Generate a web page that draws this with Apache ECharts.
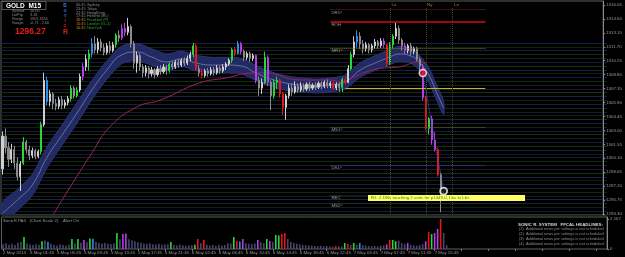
<!DOCTYPE html>
<html>
<head>
<meta charset="utf-8">
<title>GOLD M15</title>
<script src="https://cdn.jsdelivr.net/npm/echarts@6/dist/echarts.min.js"></script>
<style>
  html, body { margin: 0; padding: 0; background: #000; }
  #chart { width: 625px; height: 257px; }
</style>
</head>
<body>
<div id="chart"></div>
<script>
// ---- data ----
const slotCount = 202 // bar slots incl. the empty chart shift on the right

const timeLabels = ['2 May 2014', '5 May 01:45', '5 May 05:45', '5 May 09:45', '5 May 13:45',
  '5 May 17:45', '5 May 21:45', '6 May 02:45', '6 May 06:45', '6 May 10:45', '6 May 14:45',
  '6 May 18:45', '6 May 22:45', '7 May 03:45', '7 May 07:45', '7 May 11:45', '7 May 15:45']

const priceTicks = [1316.05, 1314.60, 1313.15, 1311.70, 1310.25, 1308.80, 1307.35, 1305.90,
  1304.45, 1303.00, 1301.55, 1300.10, 1298.65, 1297.20, 1295.75, 1294.30]
const volumeTicks = [0, 2167]
const lastPrice = 1296.27

// [open, close, low, high]
const candles = [
  [1299.0,1302.4,1298.4,1302.9],[1302.4,1301.2,1300.6,1303.2],[1301.2,1300.0,1299.2,1301.8],[1300.0,1301.0,1299.6,1301.6],[1301.0,1299.6,1299.0,1301.4],
  [1299.6,1298.2,1297.8,1300.2],[1298.2,1299.5,1296.7,1299.8],[1299.6,1301.8,1299.4,1302.3],[1301.8,1301.0,1300.6,1302.0],[1301.0,1300.4,1299.9,1301.4],
  [1300.4,1300.9,1300.1,1301.2],[1300.9,1300.3,1300.0,1301.1],[1300.3,1300.8,1300.1,1301.0],[1300.8,1303.6,1300.5,1303.9],[1303.6,1308.2,1303.4,1309.0],
  [1308.2,1306.0,1305.6,1308.6],[1306.0,1306.8,1305.5,1307.2],[1306.8,1305.8,1305.2,1307.0],[1305.8,1305.5,1305.1,1306.3],[1305.5,1306.2,1305.2,1306.5],
  [1306.2,1305.6,1305.2,1306.6],[1305.6,1305.9,1305.3,1306.2],[1305.9,1306.3,1305.6,1306.6],[1306.3,1307.4,1306.0,1307.7],[1307.4,1306.6,1306.3,1307.6],
  [1306.6,1307.2,1306.4,1307.5],[1307.2,1308.6,1307.0,1308.9],[1308.6,1309.6,1308.2,1310.0],[1309.6,1310.4,1309.2,1310.9],[1310.4,1311.0,1309.2,1311.4],
  [1311.0,1312.0,1310.6,1312.6],[1312.0,1311.4,1311.0,1312.8],[1311.4,1312.2,1311.0,1312.6],[1312.2,1311.6,1311.2,1312.5],[1311.6,1311.1,1310.8,1312.0],
  [1311.1,1311.8,1310.9,1312.1],[1311.8,1311.3,1311.0,1312.3],[1311.3,1311.9,1311.1,1312.2],[1311.9,1312.9,1311.6,1313.1],[1312.9,1312.6,1312.2,1313.4],
  [1312.6,1313.6,1312.4,1314.0],[1313.6,1313.2,1312.8,1314.2],[1313.2,1313.8,1312.9,1314.7],[1313.8,1312.0,1311.6,1314.0],[1312.0,1310.0,1309.4,1312.3],
  [1310.0,1310.8,1309.0,1311.2],[1310.8,1309.6,1309.2,1311.0],[1309.6,1309.0,1308.5,1309.9],[1309.0,1309.5,1308.6,1309.8],[1309.5,1308.9,1308.4,1309.7],
  [1308.9,1309.3,1308.6,1309.6],[1309.3,1308.8,1308.4,1309.5],[1308.8,1309.4,1308.6,1309.7],[1309.4,1309.1,1308.8,1309.8],[1309.1,1309.6,1308.9,1309.9],
  [1309.6,1309.2,1308.8,1309.8],[1309.2,1309.9,1309.0,1310.1],[1309.9,1309.6,1309.3,1310.2],[1309.6,1310.1,1309.4,1310.3],[1310.1,1309.8,1309.5,1310.4],
  [1309.8,1310.3,1309.6,1310.5],[1310.3,1310.0,1309.7,1310.6],[1310.0,1310.5,1309.8,1310.8],[1310.5,1310.9,1310.2,1311.2],[1310.9,1311.8,1310.6,1312.1],
  [1311.8,1309.4,1309.2,1312.0],[1309.4,1309.0,1308.6,1309.8],[1309.0,1308.7,1308.4,1309.4],[1308.7,1309.2,1308.5,1309.4],[1309.2,1308.9,1308.6,1309.5],
  [1308.9,1309.3,1308.7,1309.6],[1309.3,1309.0,1308.7,1309.6],[1309.0,1309.5,1308.8,1309.8],[1309.5,1309.2,1308.9,1309.7],[1309.2,1309.6,1309.0,1309.9],
  [1309.6,1309.9,1309.3,1310.1],[1309.9,1310.3,1309.7,1310.5],[1310.3,1311.4,1310.0,1311.6],[1311.4,1311.0,1310.7,1311.7],[1311.0,1312.0,1310.9,1312.3],
  [1312.0,1311.2,1310.9,1312.2],[1311.2,1310.6,1310.2,1311.4],[1310.6,1311.0,1310.3,1311.2],[1311.0,1310.5,1310.1,1311.2],[1310.5,1310.8,1310.2,1311.0],
  [1310.8,1308.2,1307.9,1310.9],[1308.2,1307.4,1306.6,1308.6],[1307.4,1308.0,1306.8,1308.4],[1308.0,1310.6,1307.8,1311.2],[1310.6,1308.0,1307.6,1310.8],
  [1308.0,1306.6,1305.1,1308.2],[1306.6,1308.0,1306.3,1308.3],[1308.0,1308.2,1307.3,1308.6],[1308.2,1306.8,1306.4,1308.4],[1306.8,1305.4,1304.6,1307.0],
  [1305.4,1306.6,1304.1,1306.8],[1306.6,1307.4,1306.3,1307.8],[1307.4,1307.0,1306.6,1307.9],[1307.0,1307.6,1306.8,1308.1],[1307.6,1307.2,1306.9,1307.9],
  [1307.2,1307.6,1307.0,1308.0],[1307.6,1307.3,1307.0,1307.9],[1307.3,1307.8,1307.1,1308.0],[1307.8,1307.4,1307.1,1308.1],[1307.4,1307.7,1307.2,1307.9],
  [1307.7,1307.5,1307.2,1308.0],[1307.5,1307.9,1307.3,1308.1],[1307.9,1307.6,1307.3,1308.1],[1307.6,1308.0,1307.4,1308.2],[1308.0,1307.7,1307.4,1308.3],
  [1307.7,1307.9,1307.4,1308.1],[1307.9,1307.4,1307.2,1308.1],[1307.4,1307.8,1307.2,1308.0],[1307.8,1307.5,1307.0,1308.0],[1307.5,1308.3,1307.0,1308.5],
  [1308.3,1308.0,1307.8,1308.6],[1308.0,1309.4,1307.9,1309.8],[1309.4,1310.9,1309.2,1311.2],[1310.9,1312.2,1310.6,1312.8],[1312.2,1312.8,1311.6,1313.4],
  [1312.8,1312.0,1311.5,1313.2],[1312.0,1311.5,1311.0,1312.4],[1311.5,1311.9,1311.2,1312.2],[1311.9,1311.4,1311.0,1312.1],[1311.4,1311.8,1311.1,1312.0],
  [1311.8,1312.2,1311.5,1312.5],[1312.2,1311.8,1311.5,1312.4],[1311.8,1312.3,1311.6,1312.6],[1312.3,1311.9,1311.6,1312.6],[1311.9,1310.0,1309.6,1312.0],
  [1310.0,1311.9,1309.8,1312.2],[1311.9,1312.8,1311.5,1313.0],[1312.8,1313.6,1312.5,1314.2],[1313.6,1312.4,1312.0,1313.9],[1312.4,1311.8,1311.3,1312.6],
  [1311.8,1311.3,1310.9,1312.1],[1311.3,1311.8,1311.0,1312.0],[1311.8,1311.2,1310.8,1312.1],[1311.2,1311.5,1310.9,1311.7],[1311.5,1310.4,1310.2,1311.7],
  [1310.4,1309.7,1309.2,1310.6],[1309.7,1306.4,1306.1,1309.9],[1306.4,1303.2,1303.0,1306.6],[1303.2,1304.2,1302.6,1304.4],[1304.2,1302.0,1301.5,1304.5],
  [1302.0,1301.0,1300.8,1302.8],[1301.0,1298.4,1298.2,1301.2],[1298.4,1296.4,1294.5,1298.6],[1296.4,1296.27,1296.0,1296.6]
]

// price/volume analysis class of each bar: n normal, g green, r red, b blue, p purple
const pva = ('nnnnnnngnn' + 'nnngnbnnnn' + 'nnngngnpng' + 'bnnnnnnngn' + 'ppnnnnnnnn' +
  'nnnnnngnnn' + 'nnnngrnrnn' + 'nnnnnnngrb' + 'pnnnnpnngp' + 'nggrrnnnnn' +
  'nnnnnnnnnn' + 'nrnngrngnb' + 'nnnnnnnnpr' + 'ggnnnpnnnn' + 'nprgpprnn').split('')

const volumes = [
  350, 420, 300, 380, 280, 450, 520, 870, 400, 320,
  280, 350, 300, 560, 620, 500, 380, 300, 260, 330,
  290, 250, 310, 720, 420, 730, 450, 650, 480, 760,
  740, 520, 460, 400, 430, 380, 350, 420, 1150, 700,
  1080, 1120, 700, 620, 560, 480, 450, 400, 380, 420,
  350, 330, 380, 300, 320, 350, 500, 280, 250, 300,
  270, 240, 260, 280, 300, 720, 420, 650, 300, 260,
  280, 240, 300, 260, 290, 420, 400, 870, 580, 540,
  720, 420, 380, 350, 400, 650, 480, 420, 720, 580,
  520, 1010, 980, 1080, 1150, 720, 520, 440, 380, 330,
  300, 280, 250, 240, 220, 200, 230, 190, 210, 180,
  180, 230, 200, 180, 430, 360, 300, 430, 300, 430,
  280, 250, 220, 200, 230, 190, 240, 260, 330, 650,
  650, 560, 600, 420, 360, 430, 300, 260, 240, 280,
  350, 560, 1220, 1080, 1150, 1450, 2167, 1150, 280
]

// "dragon" band (EMA of highs / lows) and slow MA, sampled at bar indices
const dragonX = [0, 5, 10, 15, 20, 25, 30, 35, 40, 45, 50, 55, 60, 65, 70, 75, 80, 85, 90, 95,
  100, 105, 110, 115, 120, 125, 130, 133, 137, 140, 143, 146, 148]
const dragonHigh = [1295.50, 1296.86, 1298.42, 1301.33, 1303.57, 1305.86, 1308.20, 1310.23, 1311.77, 1312.06,
  1311.50, 1310.96, 1311.23, 1310.81, 1310.60, 1310.60, 1310.50, 1309.75, 1309.11, 1308.68,
  1308.46, 1308.34, 1308.44, 1308.76, 1310.03, 1310.77, 1311.42, 1311.73, 1311.50, 1310.78,
  1309.53, 1307.48, 1306.03]
const dragonMid = [1294.40, 1295.76, 1297.32, 1300.23, 1302.52, 1304.81, 1307.20, 1309.28, 1310.85, 1311.16,
  1310.64, 1310.12, 1310.43, 1310.01, 1309.80, 1309.80, 1309.70, 1308.97, 1308.35, 1307.93,
  1307.72, 1307.62, 1307.72, 1308.04, 1309.28, 1310.01, 1310.64, 1310.95, 1310.74, 1310.01,
  1308.76, 1306.68, 1305.33]
const dragonLow = [1293.30, 1294.66, 1296.22, 1299.13, 1301.47, 1303.76, 1306.20, 1308.33, 1309.93, 1310.26,
  1309.78, 1309.28, 1309.63, 1309.21, 1309.00, 1309.00, 1308.90, 1308.19, 1307.59, 1307.18,
  1306.98, 1306.90, 1307.00, 1307.32, 1308.53, 1309.25, 1309.86, 1310.17, 1309.98, 1309.24,
  1307.99, 1305.88, 1304.63]

const maX = [17, 20, 30, 36, 45, 53, 66, 75, 84, 88, 100, 110, 114, 117, 124, 128, 133, 140, 142]
const maVal = [1294.20, 1295.76, 1300.65, 1303.35, 1305.43, 1306.16, 1307.93, 1308.45, 1308.97, 1308.97,
  1308.24, 1308.24, 1308.04, 1308.45, 1309.28, 1309.49, 1309.60, 1310.12, 1309.91]

// pivot / range levels
const levelNames = ['DR1^', 'ROH', 'MR1^', '', 'MS1^', 'DS1^', 'REC', 'MS2^']
const levelPrices = [1315.55, 1314.30, 1311.57, 1307.38, 1303.35, 1299.40, 1296.30, 1295.45]
const levelFrom = [110, 110, 110, 115, 110, 110, 110, 110]
const levelTo = [162, 162, 162, 162, 162, 162, 162, 162]

// session separators
const sessionX = [130, 142, 151]
const sessionNames = ['Lo', 'Ny', 'Lo']

// signal: sell arrow start and target
const signalX = [141, 148]
const signalY = [1308.97, 1296.69]

// ---- styling ----
const font = '"Liberation Sans", Arial, sans-serif'
const txtGray = '#9a9a9a'
const pvaColor = { g: '#2bd63a', r: '#e8141b', b: '#2a8fe8', p: '#b53ee0' }
const levelLook = [
  { color: '#7a2626', type: 'dotted', width: 1 },
  { color: '#d01010', type: 'solid', width: 1.5 },
  { color: '#78781a', type: 'dotted', width: 1 },
  { color: '#c8b410', type: 'solid', width: 1 },
  { color: '#6c6c18', type: 'dotted', width: 1 },
  { color: '#3c3cb0', type: 'dotted', width: 1 },
  { color: '#333333', type: 'dotted', width: 1 },
  { color: '#333333', type: 'dotted', width: 1 }
]

const slots = Array.from({ length: slotCount }, (_, i) => i)

const candleData = candles.map((c, i) => {
  const col = pvaColor[pva[i]] || (c[1] >= c[0] ? '#cfcfcf' : '#8c8c8c')
  return { value: c, itemStyle: { color: col, color0: col, borderColor: col, borderColor0: col, borderWidth: 1 } }
})
const volumeData = volumes.map((v, i) => ({
  value: v, itemStyle: { color: pvaColor[pva[i]] || '#464670' }
}))

const smallLabel = { color: txtGray, fontSize: 4.4, fontFamily: font }

const levelLines = levelNames.map((name, k) => [
  {
    coord: [levelFrom[k], levelPrices[k]],
    lineStyle: levelLook[k],
    label: { show: name !== '', formatter: name, position: 'insideStartBottom', distance: 1, ...smallLabel }
  },
  { coord: [levelTo[k], levelPrices[k]] }
])
const sessionLines = sessionX.map((x, k) => [
  {
    coord: [x, 1294.2],
    lineStyle: { color: '#4a4a1c', type: 'dotted', width: 1 },
    label: { show: true, formatter: sessionNames[k], position: 'end', distance: 1, offset: [4, 0], color: '#8c8c48', fontSize: 4.4, fontFamily: font }
  },
  { coord: [x, 1315.75] }
])

const chart = echarts.init(document.getElementById('chart'))

chart.setOption({
  backgroundColor: '#000',
  animation: false,
  grid: [
    { left: 1, top: 1, width: 606, height: 214, show: true, borderColor: '#5e5e5e', borderWidth: 1 },
    { left: 1, top: 217, width: 606, height: 32, show: true, borderColor: '#5e5e5e', borderWidth: 1 },
    { left: 1, top: 43, width: 606, height: 172 }
  ],
  xAxis: [
    { type: 'category', gridIndex: 0, data: slots, show: false },
    {
      type: 'category', gridIndex: 1, data: slots,
      axisLine: { show: false },
      axisTick: { show: true, interval: 8, alignWithLabel: true, length: 2, lineStyle: { color: '#777' } },
      axisLabel: {
        interval: 8, align: 'left', margin: 1.5, ...smallLabel,
        formatter: (v, i) => timeLabels[i / 9] || ''
      }
    },
    { type: 'value', gridIndex: 2, min: 0, max: 1, show: false }
  ],
  yAxis: [
    {
      type: 'value', gridIndex: 0, position: 'right', min: 1294.20, max: 1316.46,
      splitLine: { show: false },
      axisLine: { show: true, lineStyle: { color: '#8a8a8a' } },
      axisTick: { show: true, length: 2, customValues: priceTicks, lineStyle: { color: '#8a8a8a' } },
      axisLabel: { customValues: priceTicks, margin: 3, formatter: v => v.toFixed(2), ...smallLabel }
    },
    {
      type: 'value', gridIndex: 1, position: 'right', min: 0, max: 2311,
      splitLine: { show: false },
      axisLine: { show: true, lineStyle: { color: '#8a8a8a' } },
      axisTick: { show: true, length: 2, customValues: volumeTicks, lineStyle: { color: '#8a8a8a' } },
      axisLabel: { customValues: volumeTicks, margin: 3, ...smallLabel }
    },
    {
      type: 'value', gridIndex: 2, min: 0, max: 45, interval: 1,
      axisLine: { show: false }, axisTick: { show: false }, axisLabel: { show: false },
      splitLine: {
        show: true,
        lineStyle: { width: 1, color: ['#0f300f', '#1a1a44', '#0b250d', '#1e1e4c', '#12331a', '#171738', '#1c1c1c'] }
      }
    }
  ],
  series: [
    {
      name: 'dragon', type: 'custom', xAxisIndex: 0, yAxisIndex: 0, clip: true, z: 2,
      data: [0],
      renderItem: (params, api) => {
        const up = dragonX.map((x, k) => api.coord([x, dragonHigh[k]]))
        const dn = dragonX.map((x, k) => api.coord([x, dragonLow[k]])).reverse()
        return {
          type: 'polygon',
          shape: { points: up.concat(dn), smooth: 0.25 },
          style: { fill: '#222a64', stroke: '#2b3574', lineWidth: 1 }
        }
      }
    },
    {
      name: 'dragonMid', type: 'line', xAxisIndex: 0, yAxisIndex: 0, z: 3,
      data: dragonX.map((x, k) => [x, dragonMid[k]]),
      smooth: true, symbol: 'none',
      lineStyle: { color: '#8a8fb4', width: 0.7 }
    },
    {
      name: 'slowMA', type: 'line', xAxisIndex: 0, yAxisIndex: 0, z: 3,
      data: maX.map((x, k) => [x, maVal[k]]),
      smooth: true, symbol: 'none',
      lineStyle: { color: '#9c2063', width: 1 }
    },
    {
      name: 'GOLD', type: 'candlestick', xAxisIndex: 0, yAxisIndex: 0, z: 4,
      barWidth: 1.6,
      data: candleData,
      markLine: {
        silent: true, symbol: ['none', 'none'], animation: false,
        data: [
          ...levelLines,
          ...sessionLines,
          {
            yAxis: lastPrice, lineStyle: { opacity: 0 },
            label: {
              show: true, position: 'end', distance: 1, formatter: lastPrice.toFixed(2),
              backgroundColor: '#bdbdbd', color: '#000', fontSize: 4.4, fontFamily: font, padding: [1, 2, 0, 2]
            }
          }
        ]
      }
    },
    {
      name: 'signal', type: 'line', xAxisIndex: 0, yAxisIndex: 0, z: 5,
      data: signalX.map((x, k) => [x, signalY[k]]),
      symbol: 'none',
      lineStyle: { color: '#3d62d4', width: 1, type: 'dotted' }
    },
    {
      name: 'signalDots', type: 'scatter', xAxisIndex: 0, yAxisIndex: 0, z: 6,
      symbolSize: 7,
      data: [
        { value: [signalX[0], signalY[0]], itemStyle: { color: '#e01020', borderColor: '#fff', borderWidth: 1.5 } },
        { value: [signalX[1], signalY[1]], itemStyle: { color: '#222', borderColor: '#fff', borderWidth: 1.8 } }
      ]
    },
    {
      name: 'volume', type: 'bar', xAxisIndex: 1, yAxisIndex: 1,
      barWidth: 1.6, data: volumeData
    }
  ],
  graphic: [
    { type: 'rect', z: 100, shape: { x: 2, y: 1.5, width: 44, height: 8 }, style: { fill: '#000', stroke: '#6a6a6a', lineWidth: 0.8 } },
    { type: 'text', z: 101, style: { text: 'GOLD  M15', x: 6, y: 6, fill: '#fff', font: 'bold 6.5px ' + font, verticalAlign: 'middle' } },
    { type: 'text', z: 101, style: { text: 'Spread\nLotPip\nRange\nSwaps', x: 12, y: 9, fill: '#8a8a8a', font: '3.8px ' + font, lineHeight: 4 } },
    { type: 'text', z: 101, style: { text: '50.00\n3.18\n1901.1855\n-0.71 , 2.00', x: 30, y: 9, fill: '#8a8a8a', font: '3.8px ' + font, lineHeight: 4 } },
    { type: 'text', z: 101, style: { text: '1296.27', x: 15, y: 31.5, fill: '#e81a1a', font: 'bold 8.5px ' + font, verticalAlign: 'middle' } },
    { type: 'text', z: 101, style: { text: 'S', x: 63, y: 5, fill: '#2f8ff0', font: 'bold 5.5px ' + font, verticalAlign: 'middle' } },
    { type: 'text', z: 101, style: { text: 'o', x: 63.5, y: 10.7, fill: '#3a6fe0', font: 'bold 5px ' + font, verticalAlign: 'middle' } },
    { type: 'text', z: 101, style: { text: 'n', x: 63.5, y: 15.7, fill: '#2a4cb0', font: 'bold 5px ' + font, verticalAlign: 'middle' } },
    { type: 'text', z: 101, style: { text: 'i', x: 64.5, y: 20.7, fill: '#d02020', font: 'bold 5px ' + font, verticalAlign: 'middle' } },
    { type: 'text', z: 101, style: { text: 'c', x: 63.5, y: 25.7, fill: '#d02020', font: 'bold 5px ' + font, verticalAlign: 'middle' } },
    { type: 'text', z: 101, style: { text: 'R', x: 63, y: 31.7, fill: '#e81a1a', font: 'bold 7px ' + font, verticalAlign: 'middle' } },
    { type: 'text', z: 101, style: { text: '00:45\n23:45\n22:45\n17:45', x: 76, y: 2.7, fill: '#8a8a8a', font: '3.8px ' + font, lineHeight: 3.9 } },
    { type: 'text', z: 101, style: { text: 'Sydney\nTokyo\nHongKong\nHelsinki (EL)', x: 87, y: 2.7, fill: '#8a8a8a', font: '3.8px ' + font, lineHeight: 3.9 } },
    { type: 'text', z: 101, style: { text: '16:45\n15:45\n10:45', x: 76, y: 18.3, fill: '#d08a20', font: '3.8px ' + font, lineHeight: 3.9 } },
    { type: 'text', z: 101, style: { text: 'Frankfurt (P)\nLondon (G+1)\nNewYork', x: 87, y: 18.3, fill: '#2ea02e', font: '3.8px ' + font, lineHeight: 3.9 } },
    { type: 'rect', z: 100, shape: { x: 368, y: 195, width: 157, height: 6 }, style: { fill: '#ffff66' } },
    { type: 'text', z: 101, style: { text: 'R1: 2 DRs touching 2 units for p1449.0, Lbs to Lbs', x: 371, y: 198.2, fill: '#2c8a2c', font: '4.4px ' + font, verticalAlign: 'middle' } },
    { type: 'text', z: 101, style: { text: 'SonicR PA4   (Chart Scale 2)    Alert On', x: 3, y: 220.8, fill: txtGray, font: '4.3px ' + font, verticalAlign: 'middle' } },
    { type: 'text', z: 101, style: { text: 'SONIC R. SYSTEM   FFCAL HEADLINES:', x: 518, y: 224.3, fill: '#d8d8d8', font: 'bold 4.4px ' + font, verticalAlign: 'middle' } },
    {
      type: 'text', z: 101,
      style: {
        text: '(1)  Additional news per settings is not scheduled\n(2)  Additional news per settings is not scheduled\n(3)  Additional news per settings is not scheduled\n(4)  Additional news per settings is not scheduled',
        x: 519, y: 227, fill: '#8e8e8e', font: '3.9px ' + font, lineHeight: 4.8
      }
    }
  ]
})
</script>
</body>
</html>
